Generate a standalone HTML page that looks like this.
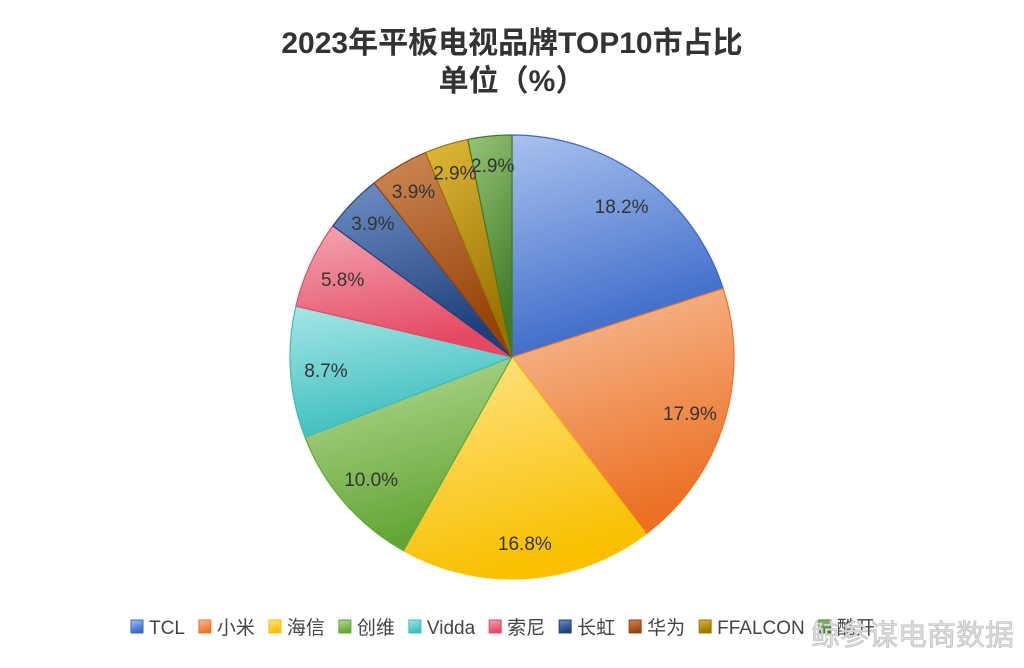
<!DOCTYPE html>
<html><head><meta charset="utf-8"><style>
html,body{margin:0;padding:0;background:#fff;}
body{width:1024px;height:663px;overflow:hidden;font-family:"Liberation Sans","Noto Sans CJK SC",sans-serif;}
</style></head><body>
<svg id="chart" width="1024" height="663" viewBox="0 0 1024 663" xmlns="http://www.w3.org/2000/svg">
<defs id="defs"></defs>
<text x="512" y="53" text-anchor="middle" font-size="30" font-weight="bold" fill="#333" font-family="Liberation Sans,Noto Sans CJK SC,sans-serif">2023年平板电视品牌TOP10市占比</text>
<text x="512" y="91" text-anchor="middle" font-size="30" font-weight="bold" fill="#333" font-family="Liberation Sans,Noto Sans CJK SC,sans-serif">单位（%）</text>
<g id="slices"></g>
<g id="labels"></g>
<g id="legend"></g>
<text x="1014" y="645" text-anchor="end" font-size="29" fill="#dcdcdc" stroke="#bbb" stroke-width="0.6" font-family="Noto Sans CJK SC,sans-serif">鲸参谋电商数据</text>
</svg>
<script>
const categories=["TCL","小米","海信","创维","Vidda","索尼","长虹","华为","FFALCON","酷开"];
const values=[18.2,17.9,16.8,10.0,8.7,5.8,3.9,3.9,2.9,2.9];
const valueLabels=["18.2%","17.9%","16.8%","10.0%","8.7%","5.8%","3.9%","3.9%","2.9%","2.9%"];
const colorsLight=["#a9c1ee","#f7c19c","#ffe48a","#b9dc99","#a6e6e6","#f4a5b2","#6f8fc6","#cf8a58","#e0b83a","#96c477"];
const colorsDark=["#3a68c8","#ec7125","#f8c000","#62a534","#3bbdbd","#e44862","#1f3f7a","#964208","#9a7400","#3f7a25"];
const ns="http://www.w3.org/2000/svg";
const cx=512,cy=357,r=222;
const total=values.reduce((a,b)=>a+b,0);
const defs=document.getElementById('defs'),gS=document.getElementById('slices'),gL=document.getElementById('labels'),gG=document.getElementById('legend');
function pt(a,rr){return [cx+rr*Math.sin(a),cy-rr*Math.cos(a)];}
let a0=0;
values.forEach((v,i)=>{
  const a1=a0+v/total*2*Math.PI;
  const lg=document.createElementNS(ns,'linearGradient');
  lg.setAttribute('id','g'+i);lg.setAttribute('x1','0');lg.setAttribute('y1','0');lg.setAttribute('x2','0.3');lg.setAttribute('y2','1');
  lg.innerHTML='<stop offset="0" stop-color="'+colorsLight[i]+'"/><stop offset="1" stop-color="'+colorsDark[i]+'"/>';
  defs.appendChild(lg);
  const p0=pt(a0,r),p1=pt(a1,r);
  const path=document.createElementNS(ns,'path');
  path.setAttribute('d','M'+cx+','+cy+'L'+p0[0]+','+p0[1]+'A'+r+','+r+' 0 '+((a1-a0)>Math.PI?1:0)+' 1 '+p1[0]+','+p1[1]+'Z');
  path.setAttribute('fill','url(#g'+i+')');path.setAttribute('stroke',colorsDark[i]);path.setAttribute('stroke-width','1.2');
  
  
  gS.appendChild(path);
  const m=(a0+a1)/2;const rr=(a1-a0)<0.3?0.87*r:0.84*r;const lp=pt(m,rr);
  const t=document.createElementNS(ns,'text');
  t.setAttribute('x',lp[0]);t.setAttribute('y',lp[1]+7);t.setAttribute('text-anchor','middle');
  t.setAttribute('font-size','19');t.setAttribute('fill','#333');
  t.textContent=valueLabels[i];
  
  
  gL.appendChild(t);
  a0=a1;
});
let x=131;const ly=627;
const c2=document.createElement('canvas').getContext('2d');c2.font='19px "Liberation Sans","Noto Sans CJK SC",sans-serif';
categories.forEach((c,i)=>{
  const g=document.createElementNS(ns,'g');
  
  
  const rc=document.createElementNS(ns,'rect');
  rc.setAttribute('x',x);rc.setAttribute('y',ly-7);rc.setAttribute('width',12);rc.setAttribute('height',13);
  rc.setAttribute('fill','url(#g'+i+')');rc.setAttribute('stroke',colorsDark[i]);
  g.appendChild(rc);
  const t=document.createElementNS(ns,'text');
  t.setAttribute('x',x+18);t.setAttribute('y',ly+7);t.setAttribute('font-size','19');t.setAttribute('fill','#444');
  t.textContent=c;g.appendChild(t);gG.appendChild(g);
  x+=18+c2.measureText(c).width+14;
});
</script>
</body></html>
